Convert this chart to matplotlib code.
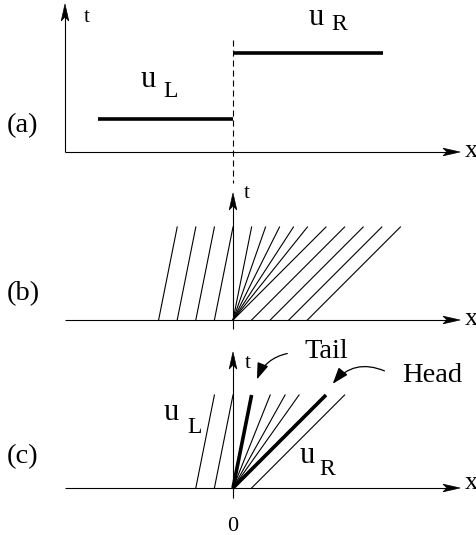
import matplotlib
matplotlib.use('Agg')
import matplotlib.pyplot as plt
from matplotlib.patches import FancyArrowPatch, Polygon
import numpy as np

# ---------------- data ----------------
u_left, u_right = 1.0, 3.0            # states in panel (a)
seg_left = [-1.45, 0.0]               # x-extent of u_L segment
seg_right = [0.0, 1.61]               # x-extent of u_R segment
speed_left = 0.2                      # characteristic speed in u_L region
speed_right = 1.0                     # characteristic speed in u_R region
b_left_feet = [-0.8, -0.6, -0.4, -0.2]
b_fan_speeds = [0.2, 0.35, 0.5, 0.65, 0.8, 1.0]
b_right_feet = [0.2, 0.4, 0.6, 0.8]
c_left_feet = [-0.4, -0.2]
c_tail_speed = 0.2
c_fan_speeds = [0.4, 0.56, 0.71]
c_head_speed = 1.0
c_right_feet = [0.2]
t_top = 1.0
panel_labels = ['(a)', '(b)', '(c)']

# ---------------- layout ----------------
FONT = 'Liberation Serif'
S = 93.0          # px per unit of x and t
X0 = 233.0        # x pixel of origin
Y0 = {'a': 152.0, 'b': 320.0, 'c': 488.0}
SU = 33.0         # px per unit of u in panel (a)

fig = plt.figure(figsize=(4.77, 5.35), dpi=100)
ax = fig.add_axes([0, 0, 1, 1])
ax.set_xlim(0, 477)
ax.set_ylim(535, 0)
ax.axis('off')


def P(x, t, panel):
    return X0 + x * S, Y0[panel] - t * S


def head(tip, direction, L=17, w=3.8, notch=4.0):
    d = np.array(direction, float)
    d /= np.hypot(*d)
    n = np.array([-d[1], d[0]])
    tip = np.array(tip, float)
    back = tip - d * L
    pts = [tip, back + n * w, tip - d * (L - notch), back - n * w]
    ax.add_patch(Polygon(pts, closed=True, fc='black', ec='black', lw=0.5, zorder=5))


def axis_arrow(p0, p1):
    p0 = np.array(p0, float); p1 = np.array(p1, float)
    d = p1 - p0
    dn = d / np.hypot(*d)
    end = p1 - dn * 10
    ax.plot([p0[0], end[0]], [p0[1], end[1]], color='black', lw=0.8, solid_capstyle='butt')
    head(p1, d)


def txt(x, y, s, size, ha='center', va='baseline'):
    ax.text(x, y, s, fontsize=size, family=FONT, ha=ha, va=va, color='black')


thin = 0.8
thick = 2.6
LBL = 20.5
USZ = 22
SUB = 17

# ---------------- panel (a) ----------------
axis_arrow((65, Y0['a']), (65, 4))
axis_arrow((65, Y0['a']), (460, Y0['a']))
ax.plot([X0, X0], [40, 183], color='black', lw=0.8, dashes=(5.5, 3.5))
ax.plot([X0 + seg_left[0] * S, X0 + seg_left[1] * S],
        [Y0['a'] - u_left * SU] * 2, color='black', lw=thick, solid_capstyle='butt')
ax.plot([X0 + seg_right[0] * S, X0 + seg_right[1] * S],
        [Y0['a'] - u_right * SU] * 2, color='black', lw=thick, solid_capstyle='butt')
txt(87, 22, 't', 15)
txt(465, 157, 'x', 19, ha='left')
txt(148, 87, 'u', USZ)
txt(171, 97, 'L', SUB)
txt(316, 25, 'u', USZ)
txt(339, 30, 'R', SUB)
txt(23, 132, panel_labels[0], LBL)

# ---------------- panel (b) ----------------
axis_arrow((65, Y0['b']), (460, Y0['b']))
axis_arrow((X0, 329), (X0, 193))
for x0 in b_left_feet:
    (xa, ya), (xb, yb) = P(x0, 0, 'b'), P(x0 + speed_left * t_top, t_top, 'b')
    ax.plot([xa, xb], [ya, yb], color='black', lw=thin)
for s in b_fan_speeds:
    (xa, ya), (xb, yb) = P(0, 0, 'b'), P(s * t_top, t_top, 'b')
    ax.plot([xa, xb], [ya, yb], color='black', lw=thin)
for x0 in b_right_feet:
    (xa, ya), (xb, yb) = P(x0, 0, 'b'), P(x0 + speed_right * t_top, t_top, 'b')
    ax.plot([xa, xb], [ya, yb], color='black', lw=thin)
txt(247, 198, 't', 15)
txt(465, 325, 'x', 19, ha='left')
txt(23, 300, panel_labels[1], LBL)

# ---------------- panel (c) ----------------
axis_arrow((65, Y0['c']), (460, Y0['c']))
axis_arrow((X0, 498), (X0, 352))
for x0 in c_left_feet:
    (xa, ya), (xb, yb) = P(x0, 0, 'c'), P(x0 + speed_left * t_top, t_top, 'c')
    ax.plot([xa, xb], [ya, yb], color='black', lw=thin)
for s in c_fan_speeds:
    (xa, ya), (xb, yb) = P(0, 0, 'c'), P(s * t_top, t_top, 'c')
    ax.plot([xa, xb], [ya, yb], color='black', lw=thin)
for s in [c_tail_speed, c_head_speed]:
    (xa, ya), (xb, yb) = P(0, 0, 'c'), P(s * t_top, t_top, 'c')
    ax.plot([xa, xb], [ya, yb], color='black', lw=thick, solid_capstyle='butt')
for x0 in c_right_feet:
    (xa, ya), (xb, yb) = P(x0, 0, 'c'), P(x0 + speed_right * t_top, t_top, 'c')
    ax.plot([xa, xb], [ya, yb], color='black', lw=thin)
txt(248, 368, 't', 15)
txt(465, 489, 'x', 19, ha='left')
txt(23, 463, panel_labels[2], LBL)
txt(171, 420, 'u', USZ)
txt(195, 433, 'L', SUB)
txt(307, 463, 'u', USZ)
txt(327, 475, 'R', SUB)
txt(233, 531, '0', 16)
txt(326, 358, 'Tail', LBL)
txt(432, 382, 'Head', LBL)

for start, end, rad in [((290, 353), (256, 382), 0.3), ((387, 372), (331, 386), 0.4)]:
    ax.add_patch(FancyArrowPatch(start, end, connectionstyle=f'arc3,rad={rad}',
                                 arrowstyle='-|>,head_length=10,head_width=3.5',
                                 mutation_scale=1, lw=0.9, color='black', zorder=5))

fig.savefig('out.png', dpi=100)
